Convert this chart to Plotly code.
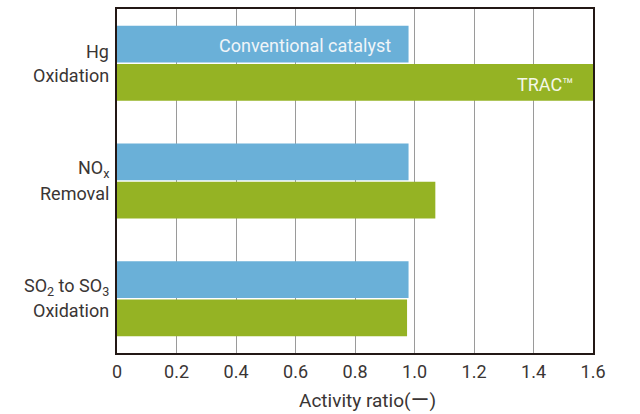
import plotly.graph_objects as go

categories = ["Hg<br>Oxidation", "NO<sub>x</sub><br>Removal", "SO<sub>2</sub> to SO<sub>3</sub><br>Oxidation"]
conventional = [0.98, 0.98, 0.98]
trac = [1.6, 1.07, 0.975]
series_names = ["Conventional catalyst", "TRAC™"]
x_ticks = [0, 0.2, 0.4, 0.6, 0.8, 1.0, 1.2, 1.4, 1.6]
x_tick_labels = ["0", "0.2", "0.4", "0.6", "0.8", "1.0", "1.2", "1.4", "1.6"]
x_title = "Activity ratio(ー)"

BLUE = "#6AB0D8"
GREEN = "#95B324"
TEXT = "#3a3534"
FONT = "Roboto, 'Noto Sans CJK JP'"
FS = 18

fig = go.Figure()
fig.add_trace(go.Bar(y=categories, x=conventional, orientation="h", name=series_names[0],
                     marker=dict(color=BLUE, line=dict(width=0)), hoverinfo="skip"))
fig.add_trace(go.Bar(y=categories, x=trac, orientation="h", name=series_names[1],
                     marker=dict(color=GREEN, line=dict(width=0)), hoverinfo="skip"))

annotations = []
# category labels (two lines each)
for cat in categories:
    l1, l2 = cat.split("<br>")
    annotations.append(dict(x=0, xref="paper", y=cat, yref="y", text=l1, showarrow=False,
                            xanchor="right", yanchor="middle", xshift=-6, yshift=12,
                            font=dict(family=FONT, size=FS, color=TEXT)))
    annotations.append(dict(x=0, xref="paper", y=cat, yref="y", text=l2, showarrow=False,
                            xanchor="right", yanchor="middle", xshift=-6, yshift=-12,
                            font=dict(family=FONT, size=FS, color=TEXT)))

# series labels inside the first group's bars
annotations.append(dict(x=conventional[0], xref="x", y=categories[0], yref="y", text=series_names[0],
                        showarrow=False, xanchor="right", yanchor="middle", xshift=-16, yshift=18,
                        font=dict(family=FONT, size=FS, color="#f0f5f8")))
annotations.append(dict(x=trac[0], xref="x", y=categories[0], yref="y", text=series_names[1],
                        showarrow=False, xanchor="right", yanchor="middle", xshift=-18, yshift=-21,
                        font=dict(family=FONT, size=FS, color="#f4f7e8")))

annotations.append(dict(x=0.5, xref="paper", y=0, yref="paper", text=x_title, showarrow=False,
                        xanchor="center", yanchor="middle", xshift=12, yshift=-47,
                        font=dict(family=FONT, size=FS + 1, color=TEXT)))

fig.update_layout(
    width=640, height=414,
    margin=dict(l=117, r=47, t=7, b=61),
    paper_bgcolor="white", plot_bgcolor="white",
    barmode="group", bargap=0.35, bargroupgap=0.04,
    showlegend=False,
    annotations=annotations,
    font=dict(family=FONT, size=FS, color=TEXT),
)
fig.update_xaxes(range=[0, 1.6], tickvals=x_ticks, ticktext=x_tick_labels,
                 showgrid=True, gridcolor="#9a9a9a", gridwidth=1,
                 showline=True, linecolor="#231815", linewidth=2, mirror=True,
                 ticks="outside", ticklen=1, tickcolor="rgba(0,0,0,0)",
                 tickfont=dict(family=FONT, size=FS, color=TEXT), zeroline=False, layer="below traces")
fig.update_yaxes(range=[2.46, -0.46], showticklabels=False, showgrid=False,
                 showline=True, linecolor="#231815", linewidth=2, mirror=True, ticks="")

fig.write_html("out.html", config={"displayModeBar": False},
               post_script="document.body.style.margin='0';document.body.style.overflow='hidden';")
